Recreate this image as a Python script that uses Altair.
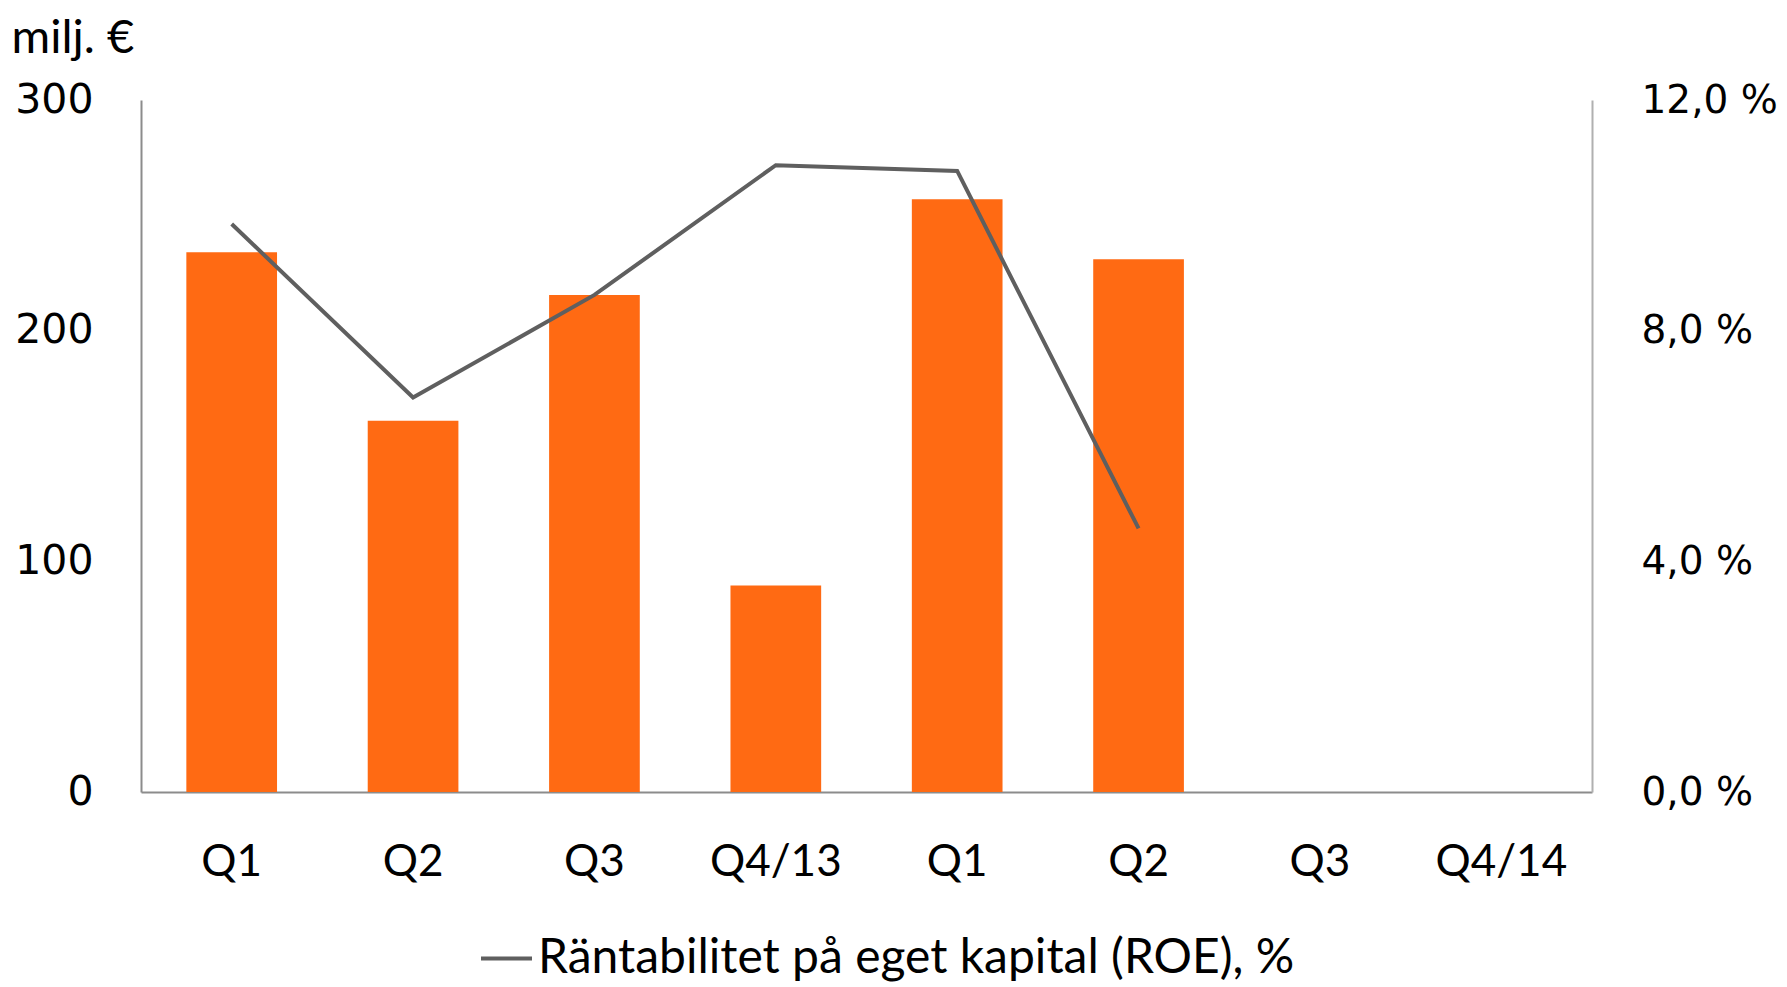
import altair as alt
import pandas as pd

# Data
labels = ["Q1", "Q2", "Q3", "Q4/13", "Q1", "Q2", "Q3", "Q4/14"]
profit = [234, 161, 215.5, 89.5, 257, 231, None, None]        # milj. €
roe = [9.85, 6.84, 8.62, 10.87, 10.77, 4.57, None, None]       # %
series_name = "Räntabilitet på eget kapital (ROE), %"

df = pd.DataFrame({
    "i": list(range(len(labels))),
    "label": labels,
    "profit": profit,
    "roe": roe,
    "series": [series_name] * len(labels),
})

label_expr = "[" + ",".join("'" + l + "'" for l in labels) + "][datum.value]"
x_scale = alt.Scale(domain=list(range(len(labels))), paddingInner=0.5, paddingOuter=0.25)
x_axis = alt.Axis(
    title=None, labelExpr=label_expr, labelAngle=0, ticks=False,
    labelFont="Lato", labelFontSize=44, labelColor="#000000",
    labelPadding=48, domainColor="#8c8c8c", domainWidth=2,
)

bars = alt.Chart(df).transform_filter("datum.profit != null").mark_bar(
    color="#FF6A13"
).encode(
    x=alt.X("i:O", scale=x_scale, axis=x_axis),
    y=alt.Y(
        "profit:Q",
        scale=alt.Scale(domain=[0, 300]),
        axis=alt.Axis(
            values=[0, 100, 200, 300], grid=False, ticks=False,
            labelFont="DejaVu Sans", labelFontSize=41, labelColor="#000000",
            labelPadding=48, domainColor="#8c8c8c", domainWidth=2,
            title="milj. €", titleAngle=0, titleFont="Lato", titleFontSize=47,
            titleFontWeight="normal", titleColor="#000000",
            titleAlign="left", titleBaseline="middle", titleX=-130, titleY=-62,
        ),
    ),
)

line = alt.Chart(df).transform_filter("datum.roe != null").mark_line(
    strokeWidth=4
).encode(
    x=alt.X("i:O", scale=x_scale, axis=x_axis),
    y=alt.Y(
        "roe:Q",
        scale=alt.Scale(domain=[0, 12]),
        axis=alt.Axis(
            orient="right", values=[0, 4, 8, 12], grid=False, ticks=False,
            labelExpr="replace(format(datum.value, '.1f'), '.', ',') + ' %'",
            labelFont="DejaVu Sans", labelFontSize=39, labelColor="#000000",
            labelPadding=49, domainColor="#b0b0b0", domainWidth=2, title=None,
        ),
    ),
    color=alt.Color(
        "series:N",
        scale=alt.Scale(range=["#5f5f5f"]),
        legend=alt.Legend(
            title=None, orient="none", legendX=338, legendY=831,
            symbolType="stroke", symbolSize=2601, symbolStrokeWidth=4,
            labelFont="Lato", labelFontSize=48, labelColor="#000000",
            labelOffset=4, labelLimit=1000,
        ),
    ),
)

chart = alt.layer(bars, line).resolve_scale(y="independent").properties(
    width=1451, height=692,
    padding={"left": 133, "top": 92, "right": 187, "bottom": 193},
    autosize=alt.AutoSizeParams(type="none"),
    background="white",
).configure_view(stroke=None, strokeWidth=0)

chart.save("out.html", embed_options={"renderer": "svg", "actions": False})
